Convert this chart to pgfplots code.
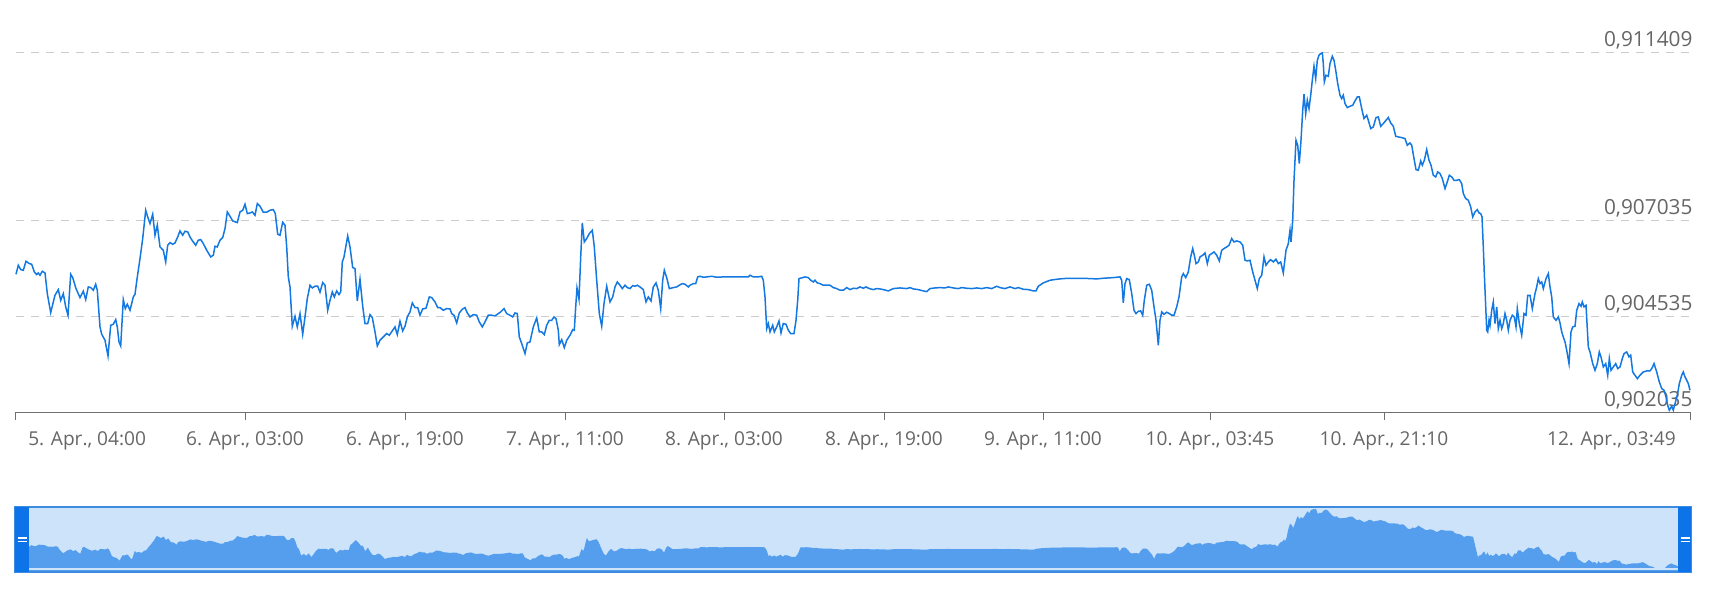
\documentclass[border=0pt]{standalone}
\usepackage{fontspec}
\setmainfont{Open Sans}
\usepackage{pgfplots}
\usepackage{pgfplotstable}
\pgfplotsset{compat=1.18}

\definecolor{linecol}{RGB}{20,120,225}
\definecolor{areacol}{RGB}{85,158,238}
\definecolor{maskcol}{RGB}{205,227,250}
\definecolor{outlinecol}{RGB}{62,140,224}
\definecolor{handlecol}{RGB}{12,115,232}
\definecolor{labelcol}{RGB}{102,102,102}
\definecolor{axiscol}{RGB}{112,112,112}
\definecolor{gridcol}{RGB}{204,204,204}

% hours since 5. Apr. 00:00, rate
\pgfplotstableread{
h v
4.00 0.905629
4.23 0.905864
4.47 0.905751
4.73 0.905733
5.00 0.905968
5.33 0.905907
5.57 0.905890
5.83 0.905690
6.07 0.905621
6.23 0.905664
6.40 0.905603
6.63 0.905707
6.90 0.905664
7.13 0.905126
7.47 0.904631
7.90 0.905082
8.23 0.905230
8.47 0.904952
8.73 0.905126
8.97 0.904779
9.20 0.904562
9.47 0.905629
9.67 0.905542
10.00 0.905256
10.40 0.905022
10.73 0.905187
10.97 0.904970
11.23 0.905299
11.47 0.905282
11.73 0.905213
11.97 0.905369
12.13 0.905213
12.40 0.904258
12.57 0.904067
12.90 0.903911
13.20 0.903503
13.47 0.904301
13.73 0.904327
13.97 0.904449
14.13 0.904258
14.30 0.903867
14.47 0.903763
14.73 0.904970
14.93 0.904735
15.13 0.904848
15.40 0.904692
15.73 0.905039
15.90 0.905108
16.13 0.905560
16.40 0.906037
16.67 0.906558
16.97 0.907296
17.17 0.907122
17.40 0.906949
17.67 0.907192
17.90 0.906645
18.13 0.906905
18.40 0.906341
18.73 0.906254
18.97 0.905950
19.17 0.906384
19.40 0.906454
19.67 0.906410
19.90 0.906445
20.17 0.906601
20.40 0.906758
20.67 0.906645
20.90 0.906749
21.17 0.906732
21.40 0.906601
21.67 0.906489
21.97 0.906384
22.23 0.906515
22.47 0.906532
22.73 0.906428
23.07 0.906254
23.47 0.906081
23.73 0.906124
23.90 0.906358
24.13 0.906341
24.40 0.906515
24.67 0.906584
24.90 0.906818
25.13 0.907252
25.40 0.907140
25.67 0.907018
26.13 0.906975
26.40 0.907252
26.67 0.907296
26.90 0.907452
27.13 0.907209
27.40 0.907226
27.63 0.907252
27.90 0.907166
28.13 0.907469
28.40 0.907400
28.73 0.907244
29.07 0.907244
29.40 0.907296
29.73 0.907313
29.93 0.907209
30.17 0.906671
30.40 0.906645
30.67 0.906983
30.90 0.906905
31.07 0.906341
31.23 0.905560
31.40 0.905299
31.63 0.904275
31.90 0.904535
32.13 0.904258
32.40 0.904605
32.67 0.904067
32.90 0.904518
33.13 0.904996
33.40 0.905343
33.63 0.905273
33.90 0.905317
34.17 0.905317
34.40 0.905161
34.67 0.905412
34.90 0.905343
35.17 0.904692
35.40 0.904952
35.63 0.905169
35.83 0.905039
36.07 0.905195
36.30 0.905100
36.47 0.905169
36.63 0.905950
36.80 0.906081
37.17 0.906627
37.40 0.906341
37.67 0.905803
37.90 0.905777
38.13 0.904935
38.40 0.905499
38.67 0.904796
38.90 0.904345
39.17 0.904345
39.40 0.904579
39.63 0.904501
39.90 0.904128
40.13 0.903763
40.40 0.903911
40.73 0.903997
41.07 0.904084
41.33 0.904041
41.67 0.904171
41.90 0.904258
42.13 0.904058
42.40 0.904405
42.67 0.904154
42.90 0.904275
43.13 0.904518
43.40 0.904648
43.63 0.904883
43.90 0.904761
44.17 0.904761
44.40 0.904562
44.67 0.904727
45.00 0.904744
45.33 0.905039
45.57 0.905022
45.90 0.904909
46.17 0.904761
46.40 0.904761
46.73 0.904692
47.07 0.904735
47.40 0.904727
47.57 0.904605
47.80 0.904562
48.07 0.904362
48.33 0.904622
48.63 0.904718
48.90 0.904761
49.13 0.904622
49.40 0.904518
49.73 0.904579
50.07 0.904562
50.33 0.904388
50.63 0.904258
50.90 0.904388
51.23 0.904562
51.57 0.904562
51.90 0.904544
52.23 0.904605
52.47 0.904648
52.80 0.904735
53.07 0.904605
53.40 0.904562
53.67 0.904518
53.90 0.904622
54.13 0.904605
54.33 0.903997
54.57 0.903824
54.90 0.903563
55.13 0.903841
55.40 0.903867
55.73 0.904258
56.07 0.904492
56.33 0.904128
56.57 0.904128
56.83 0.904058
57.07 0.904301
57.33 0.904431
57.57 0.904431
57.80 0.904518
58.00 0.904475
58.23 0.904171
58.33 0.903798
58.57 0.903928
58.83 0.903720
59.07 0.903911
59.40 0.904041
59.67 0.904188
59.83 0.904171
59.97 0.904779
60.10 0.905273
60.30 0.904978
60.47 0.906081
60.63 0.906966
60.83 0.906471
61.07 0.906558
61.33 0.906688
61.63 0.906775
61.83 0.906341
62.07 0.905473
62.33 0.904605
62.57 0.904275
62.80 0.904865
63.07 0.905317
63.40 0.904909
63.67 0.905039
63.90 0.905299
64.13 0.905430
64.40 0.905343
64.63 0.905256
64.90 0.905343
65.13 0.905282
65.40 0.905256
65.67 0.905334
65.90 0.905317
66.13 0.905343
66.40 0.905299
66.73 0.905230
67.00 0.904909
67.23 0.905039
67.50 0.904935
67.73 0.905299
68.00 0.905404
68.23 0.905213
68.47 0.904735
68.67 0.905473
68.83 0.905733
69.07 0.905542
69.33 0.905256
69.73 0.905282
70.07 0.905299
70.33 0.905343
70.63 0.905386
70.90 0.905369
71.23 0.905299
71.40 0.905343
71.73 0.905386
71.97 0.905386
72.17 0.905560
72.40 0.905577
72.73 0.905551
73.07 0.905560
73.57 0.905577
74.07 0.905551
74.73 0.905560
75.40 0.905560
76.40 0.905560
77.23 0.905560
77.40 0.905603
77.73 0.905560
78.23 0.905560
78.57 0.905577
78.73 0.905473
78.90 0.905039
79.07 0.904214
79.23 0.904345
79.40 0.904128
79.67 0.904301
79.83 0.904128
80.07 0.904258
80.30 0.904414
80.50 0.904102
80.73 0.904345
81.00 0.904327
81.23 0.904171
81.47 0.904084
81.80 0.904084
82.00 0.904431
82.17 0.904952
82.30 0.905517
82.57 0.905534
82.90 0.905560
83.23 0.905542
83.47 0.905473
83.73 0.905430
83.90 0.905473
84.13 0.905404
84.40 0.905386
84.73 0.905343
85.07 0.905343
85.40 0.905343
85.73 0.905282
86.07 0.905256
86.40 0.905213
86.73 0.905213
87.07 0.905282
87.40 0.905230
87.73 0.905265
88.07 0.905256
88.40 0.905299
88.73 0.905265
89.00 0.905299
89.33 0.905256
89.73 0.905230
90.07 0.905256
90.40 0.905247
90.73 0.905230
91.23 0.905195
91.73 0.905256
92.40 0.905273
93.07 0.905256
93.40 0.905282
93.73 0.905247
94.23 0.905230
94.73 0.905195
95.07 0.905178
95.40 0.905256
95.90 0.905273
96.40 0.905282
96.90 0.905273
97.23 0.905299
97.73 0.905273
98.23 0.905256
98.57 0.905282
99.07 0.905265
99.57 0.905256
100.07 0.905273
100.57 0.905256
101.07 0.905282
101.57 0.905256
102.07 0.905317
102.40 0.905282
102.90 0.905256
103.40 0.905299
103.90 0.905256
104.23 0.905282
104.73 0.905239
105.23 0.905230
105.73 0.905195
106.00 0.905195
106.23 0.905317
106.73 0.905404
107.40 0.905473
108.07 0.905499
108.73 0.905517
109.40 0.905525
110.40 0.905525
111.40 0.905517
112.07 0.905508
112.73 0.905525
113.73 0.905542
114.40 0.905560
114.57 0.905473
114.73 0.904883
114.90 0.905386
115.07 0.905517
115.33 0.905490
115.57 0.905126
115.80 0.904692
116.00 0.904605
116.23 0.904666
116.47 0.904674
116.67 0.904562
116.83 0.904952
117.07 0.905343
117.33 0.905369
117.57 0.905213
117.80 0.904779
118.00 0.904431
118.23 0.903780
118.40 0.904431
118.57 0.904648
118.80 0.904588
119.07 0.904640
119.33 0.904605
119.57 0.904562
119.80 0.904562
120.07 0.904779
120.30 0.905039
120.57 0.905560
120.73 0.905647
120.97 0.905542
121.23 0.905690
121.47 0.906081
121.67 0.906298
121.83 0.906124
122.00 0.905907
122.23 0.905950
122.40 0.906081
122.67 0.906124
122.90 0.906185
123.13 0.905907
123.33 0.906124
123.57 0.906167
123.80 0.906211
124.07 0.906124
124.33 0.905977
124.57 0.906254
124.80 0.906298
125.07 0.906341
125.30 0.906384
125.57 0.906558
125.80 0.906471
126.07 0.906497
126.40 0.906471
126.67 0.906384
126.90 0.905994
127.13 0.905977
127.40 0.905994
127.67 0.905690
127.90 0.905473
128.13 0.905256
128.33 0.905517
128.57 0.905603
128.80 0.906081
129.00 0.905864
129.23 0.905950
129.47 0.906011
129.73 0.905950
130.00 0.906020
130.23 0.905907
130.47 0.905950
130.73 0.905664
131.00 0.906254
131.23 0.906428
131.40 0.906775
131.50 0.906471
131.67 0.907035
131.80 0.908077
132.00 0.909119
132.17 0.908988
132.33 0.908511
132.50 0.909119
132.67 0.909900
132.80 0.910316
132.97 0.909813
133.13 0.910160
133.30 0.909943
133.47 0.910290
133.63 0.910681
133.80 0.911046
133.97 0.910724
134.13 0.911202
134.30 0.911332
134.47 0.911375
134.63 0.911393
134.73 0.911115
134.83 0.910638
135.00 0.910811
135.23 0.910785
135.40 0.911115
135.63 0.911306
135.80 0.911202
135.97 0.910941
136.17 0.910594
136.40 0.910290
136.57 0.910204
136.73 0.910290
136.90 0.910073
137.13 0.909969
137.40 0.910004
137.67 0.910030
137.90 0.910143
138.13 0.910247
138.33 0.910247
138.57 0.909943
138.80 0.909683
139.07 0.909770
139.23 0.909639
139.47 0.909422
139.73 0.909466
140.00 0.909709
140.23 0.909726
140.47 0.909483
140.73 0.909553
141.00 0.909639
141.23 0.909709
141.47 0.909570
141.73 0.909483
141.97 0.909223
142.23 0.909205
142.57 0.909188
142.90 0.909162
143.13 0.908988
143.40 0.909049
143.57 0.908988
143.80 0.908641
144.00 0.908355
144.23 0.908337
144.47 0.908580
144.63 0.908468
144.83 0.908598
145.07 0.908876
145.30 0.908598
145.50 0.908468
145.73 0.908207
145.97 0.908164
146.17 0.908294
146.40 0.908251
146.63 0.908120
146.90 0.907860
147.13 0.908034
147.33 0.908207
147.57 0.908164
147.80 0.908077
148.07 0.908077
148.33 0.908094
148.57 0.907990
148.73 0.907730
148.97 0.907600
149.23 0.907556
149.47 0.907383
149.67 0.907122
149.90 0.907252
150.13 0.907313
150.30 0.907226
150.47 0.907209
150.60 0.907122
150.73 0.906341
150.83 0.905647
150.93 0.905039
151.07 0.904171
151.17 0.904128
151.30 0.904431
151.40 0.904301
151.57 0.904692
151.73 0.904909
151.90 0.904345
152.07 0.904779
152.23 0.904214
152.40 0.904431
152.57 0.904214
152.73 0.904345
152.90 0.904605
153.07 0.904431
153.23 0.904171
153.40 0.904431
153.63 0.904562
153.83 0.904518
154.00 0.904258
154.13 0.904735
154.33 0.904345
154.57 0.904041
154.80 0.904605
155.00 0.904562
155.17 0.905082
155.40 0.905082
155.63 0.904735
155.90 0.905126
156.07 0.905299
156.23 0.905516
156.40 0.905386
156.57 0.905430
156.73 0.905256
157.00 0.905516
157.23 0.905647
157.40 0.905299
157.57 0.905039
157.73 0.904518
158.00 0.904431
158.23 0.904518
158.40 0.904362
158.57 0.904128
158.73 0.903997
158.90 0.903867
159.07 0.903650
159.30 0.903303
159.50 0.904128
159.67 0.904258
159.90 0.904275
160.07 0.904692
160.30 0.904865
160.50 0.904796
160.63 0.904909
160.80 0.904779
161.00 0.904822
161.23 0.903737
161.40 0.903607
161.67 0.903303
161.90 0.903129
162.13 0.903303
162.33 0.903607
162.50 0.903477
162.73 0.903216
162.97 0.903303
163.17 0.902999
163.33 0.903433
163.50 0.903129
163.73 0.903216
163.97 0.903303
164.17 0.903173
164.40 0.903216
164.63 0.903433
164.80 0.903563
165.07 0.903607
165.30 0.903477
165.47 0.903520
165.67 0.903086
165.90 0.902999
166.13 0.902912
166.40 0.902999
166.73 0.903086
167.07 0.903112
167.40 0.903112
167.63 0.903199
167.80 0.903303
168.07 0.903086
168.33 0.902826
168.57 0.902652
168.80 0.902609
169.00 0.902435
169.17 0.902218
169.33 0.902088
169.57 0.902192
169.73 0.902088
169.90 0.902261
170.13 0.902478
170.33 0.902782
170.57 0.902999
170.73 0.903086
170.90 0.902956
171.07 0.902869
171.23 0.902782
171.40 0.902609
}\rates

\begin{document}
\begin{tikzpicture}
\path[use as bounding box] (0pt,0pt) rectangle (857pt,307pt);
% navigator background
\fill[maskcol] (7.65pt,21pt) rectangle (845.5pt,53.35pt);
\begin{axis}[
    at={(8pt,100.85pt)}, anchor=south west,
    scale only axis, width=837pt, height=180pt,
    xmin=4, xmax=171.4,
    ymin=0.902035, ymax=0.911409,
    axis x line*=bottom, axis y line*=right,
    x axis line style={draw=axiscol, line width=0.75pt, -},
    y axis line style={draw=none},
    tick align=outside, major tick length=4pt,
    xtick={4,26.9,42.9,58.9,74.8,90.8,106.7,123.4,140.8,171.4},
    xticklabels={{\makebox[0pt][l]{\hspace{6.15pt}5. Apr., 04:00}},
        {6. Apr., 03:00},{6. Apr., 19:00},{7. Apr., 11:00},{8. Apr., 03:00},
        {8. Apr., 19:00},{9. Apr., 11:00},{10. Apr., 03:45},{10. Apr., 21:10},
        {\makebox[0pt][r]{12. Apr., 03:49\hspace{7.15pt}}}},
    xtick style={draw=axiscol, line width=0.5pt},
    xticklabel style={anchor=base, inner sep=0pt, yshift=-12.7pt,
        font=\fontsize{9.55}{11}\selectfont, text=labelcol},
    ytick={0.902035,0.904535,0.907035,0.911409},
    yticklabels={{0,902035},{0,904535},{0,907035},{0,911409}},
    scaled y ticks=false,
    ytick style={draw=none},
    yticklabel style={anchor=base east, inner sep=0pt, xshift=-2.6pt, yshift=2.9pt,
        font=\fontsize{10.4}{12}\selectfont, text=labelcol},
    ymajorgrids,
    grid style={draw=gridcol, line width=0.6pt, dash pattern=on 4pt off 3.5pt},
    clip=false,
]
\addplot[linecol, line width=0.75pt] table[x=h, y=v] {\rates};
\end{axis}
% navigator
\begin{axis}[
    at={(14.5pt,21.25pt)}, anchor=south west,
    scale only axis, width=824.5pt, height=32pt,
    xmin=4, xmax=171.4,
    ymin=0.901859, ymax=0.911622,
    hide axis, clip=true,
]
\addplot[fill=areacol, draw=none] table[x=h, y=v] {\rates} \closedcycle;
\end{axis}
\draw[maskcol, line width=0.75pt] (14.5pt,22.4pt) -- (839pt,22.4pt);
\draw[outlinecol, line width=1pt] (7.65pt,21pt) rectangle (845.5pt,53.35pt);
\fill[handlecol] (7.65pt,21pt) rectangle (14.5pt,53.35pt);
\fill[handlecol] (839pt,21pt) rectangle (845.5pt,53.35pt);
\draw[white, line width=0.6pt] (8.85pt,38pt) -- (13.35pt,38pt) (8.85pt,36.35pt) -- (13.35pt,36.35pt);
\draw[white, line width=0.6pt] (840.25pt,38pt) -- (844.75pt,38pt) (840.25pt,36.35pt) -- (844.75pt,36.35pt);
\end{tikzpicture}
\end{document}
